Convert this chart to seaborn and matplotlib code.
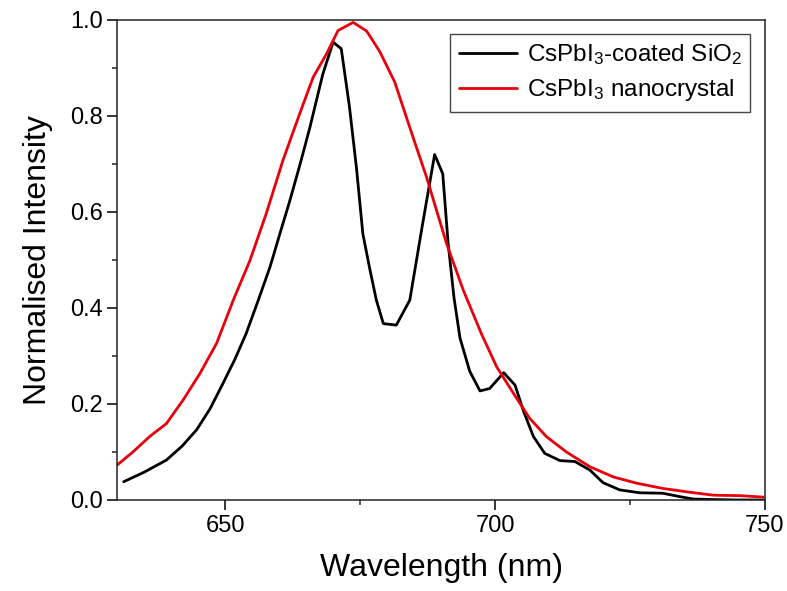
import matplotlib
matplotlib.use("Agg")
import matplotlib.pyplot as plt
import seaborn as sns
import pandas as pd
from matplotlib.ticker import MultipleLocator, FormatStrFormatter

# --- data ---
wl_coated = [631.2, 635.0, 639.1, 642.0, 644.7, 647.2, 649.6, 651.8, 653.9, 656.1, 658.3, 660.1, 662.0,
             663.9, 665.7, 668.1, 670.0, 671.5, 673.0, 674.3, 675.5, 676.8, 678.0, 679.3, 681.7,
             684.2, 686.5, 688.8, 690.3, 691.3, 692.4, 693.5, 695.3, 697.2, 699.0, 701.6, 703.7,
             705.2, 707.1, 709.2, 712.0, 714.8, 717.6, 720.0, 723.1, 726.8, 731.1, 734.2, 736.7,
             740.0, 745.0, 750.0]
int_coated = [0.038, 0.058, 0.083, 0.112, 0.146, 0.190, 0.243, 0.293, 0.347, 0.415, 0.485, 0.553, 0.624,
              0.700, 0.776, 0.887, 0.953, 0.939, 0.820, 0.693, 0.554, 0.480, 0.416, 0.367, 0.364,
              0.416, 0.570, 0.719, 0.679, 0.534, 0.420, 0.337, 0.268, 0.227, 0.232, 0.265, 0.239,
              0.187, 0.132, 0.097, 0.082, 0.080, 0.062, 0.036, 0.021, 0.015, 0.014, 0.007, 0.002,
              0.001, 0.0, 0.0]

wl_nano = [630.0, 632.9, 636.0, 639.1, 642.2, 645.3, 648.4, 651.5, 654.6, 657.6, 660.7, 663.8, 666.3,
           668.8, 670.9, 673.7, 676.2, 678.6, 681.4, 684.8, 687.3, 691.0, 694.1, 697.5, 700.3,
           703.4, 706.4, 709.5, 713.2, 717.6, 721.9, 726.2, 731.1, 735.5, 740.4, 745.4, 749.7]
int_nano = [0.073, 0.100, 0.132, 0.159, 0.208, 0.263, 0.326, 0.416, 0.499, 0.596, 0.707, 0.804, 0.880,
            0.929, 0.977, 0.994, 0.976, 0.934, 0.870, 0.755, 0.672, 0.534, 0.437, 0.345, 0.277,
            0.222, 0.170, 0.132, 0.100, 0.069, 0.048, 0.035, 0.024, 0.017, 0.010, 0.009, 0.006]

label_coated = r"CsPbI$_{\mathregular{3}}$-coated SiO$_{\mathregular{2}}$"
label_nano = r"CsPbI$_{\mathregular{3}}$ nanocrystal"

x_ticks = [650, 700, 750]
y_ticks = [0.0, 0.2, 0.4, 0.6, 0.8, 1.0]

sns.set_style("ticks")
plt.rcParams["font.family"] = ["Liberation Sans", "DejaVu Sans"]
plt.rcParams["mathtext.fontset"] = "custom"
plt.rcParams["mathtext.rm"] = "Liberation Sans"
plt.rcParams["mathtext.it"] = "Liberation Sans:italic"
plt.rcParams["mathtext.bf"] = "Liberation Sans:bold"
plt.rcParams["text.color"] = "black"
plt.rcParams["axes.labelcolor"] = "black"

fig = plt.figure(figsize=(7.87, 5.91), dpi=100)
ax = fig.add_axes([0.149, 0.154, 0.823, 0.813])

df_c = pd.DataFrame({"wl": wl_coated, "I": int_coated})
df_n = pd.DataFrame({"wl": wl_nano, "I": int_nano})
sns.lineplot(data=df_c, x="wl", y="I", ax=ax, color="black", lw=2.0, label=label_coated, sort=False)
sns.lineplot(data=df_n, x="wl", y="I", ax=ax, color="#e8000b", lw=2.0, label=label_nano, sort=False)

ax.set_xlim(630, 750)
ax.set_ylim(0, 1.0)
ax.set_xticks(x_ticks)
ax.set_yticks(y_ticks)
ax.xaxis.set_minor_locator(MultipleLocator(25))
ax.yaxis.set_minor_locator(MultipleLocator(0.1))
ax.yaxis.set_major_formatter(FormatStrFormatter("%.1f"))
ax.tick_params(which="major", direction="out", length=7, width=1.1, labelsize=17, colors="black",
               top=False, right=False)
ax.tick_params(which="minor", direction="out", length=3.5, width=1.1, top=False, right=False)
for s in ax.spines.values():
    s.set_visible(True)
    s.set_linewidth(1.1)
    s.set_color("#222222")

ax.set_xlabel("Wavelength (nm)", fontsize=23, labelpad=12, color="black")
ax.set_ylabel("Normalised Intensity", fontsize=23, labelpad=12, color="black")

leg = ax.legend(loc="upper right", fontsize=17.5, frameon=True, fancybox=False, edgecolor="#444444",
                framealpha=1, handlelength=2.4, borderaxespad=0.6, labelspacing=0.4,
                handletextpad=0.4, borderpad=0.35)
leg.get_frame().set_linewidth(1.0)
for t in leg.get_texts():
    t.set_color("black")

fig.savefig("out.png", dpi=100)
